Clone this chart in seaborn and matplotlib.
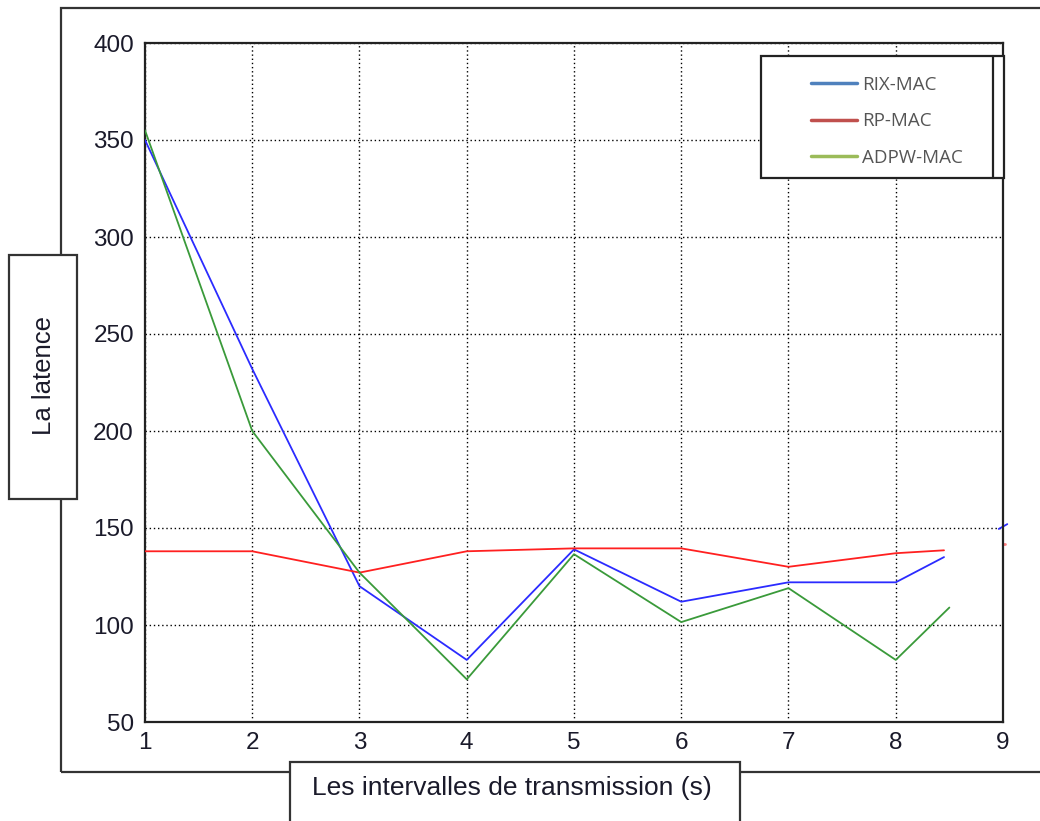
import matplotlib.pyplot as plt
import seaborn as sns
from matplotlib.lines import Line2D
from matplotlib.patches import Rectangle

# values
x_rix = [1, 2, 3, 4, 5, 6, 7, 8, 8.45]
rix_mac = [350, 232, 120, 82, 139, 112, 122, 122, 135]

x_rp = [1, 2, 3, 4, 5, 6, 7, 8, 8.45]
rp_mac = [138, 138, 127, 138, 139.5, 139.5, 130, 137, 138.5]

x_adpw = [1, 2, 3, 4, 5, 6, 7, 8, 8.5]
adpw_mac = [355, 200, 127, 72, 136.5, 101.5, 119, 82, 109]

# small leftover marks just past the right edge
x_rix_tail = [8.96, 9.04]
rix_tail = [149.5, 152]
x_rp_tail = [9.0, 9.015]
rp_tail = [141.5, 141.5]

x_ticks = [1, 2, 3, 4, 5, 6, 7, 8, 9]
y_ticks = [50, 100, 150, 200, 250, 300, 350, 400]
series_names = ['RIX-MAC', 'RP-MAC', 'ADPW-MAC']

sns.set_style('white')
plt.rcParams['font.family'] = ['Liberation Sans', 'DejaVu Sans']

W, H = 1040, 821
fig = plt.figure(figsize=(W / 100, H / 100), dpi=100)
ax = fig.add_axes([145 / W, 1 - 722 / H, (1003 - 145) / W, (722 - 43) / H])

# outer frame of the figure
fig.patches.append(Rectangle((61 / W, 1 - 772 / H), 1.0, (772 - 8) / H,
                             transform=fig.transFigure, fill=False,
                             edgecolor='#333333', linewidth=1.6, zorder=0))

sns.lineplot(x=x_rix, y=rix_mac, color='#2b2bff', linewidth=1.3, ax=ax, zorder=3)
sns.lineplot(x=x_rp, y=rp_mac, color='#ff2020', linewidth=1.3, ax=ax, zorder=3)
sns.lineplot(x=x_adpw, y=adpw_mac, color='#3a9a3a', linewidth=1.3, ax=ax, zorder=3)
sns.lineplot(x=x_rix_tail, y=rix_tail, color='#2b2bff', linewidth=1.3, ax=ax, clip_on=False)
sns.lineplot(x=x_rp_tail, y=rp_tail, color='#ff8080', linewidth=2.0, ax=ax, clip_on=False)

ax.set_xlim(1, 9)
ax.set_ylim(50, 400)
ax.set_xticks(x_ticks)
ax.set_yticks(y_ticks)
ax.grid(True, color='black', linestyle=(0, (1, 2)), linewidth=1.0)
ax.tick_params(axis='both', length=0, labelsize=17.5, labelcolor='#1a1a2a')
ax.tick_params(axis='x', pad=7)
ax.tick_params(axis='y', pad=8)
for s in ax.spines.values():
    s.set_color('#222222')
    s.set_linewidth(1.6)
ax.set_xlabel('')
ax.set_ylabel('')

# y label in its own box
fig.patches.append(Rectangle((9 / W, 1 - 499 / H), 68 / W, 244 / H,
                             transform=fig.transFigure, facecolor='white',
                             edgecolor='#333333', linewidth=1.6, zorder=2))
fig.text(44 / W, 1 - 375 / H, 'La latence', rotation=90, fontsize=18.5,
         ha='center', va='center', color='#1a1a2a', zorder=3)

# x label in its own box
fig.patches.append(Rectangle((290 / W, -0.05), 450 / W, 0.05 + 1 - 762 / H,
                             transform=fig.transFigure, facecolor='white',
                             edgecolor='#333333', linewidth=1.6, zorder=2))
fig.text(312 / W, 1 - 788 / H, 'Les intervalles de transmission (s)', fontsize=19,
         ha='left', va='center', color='#1a1a2a', zorder=3)

# legend box
ax.add_patch(Rectangle((761 / W, 1 - 178 / H), (1004 - 761) / W, 122 / H,
                       transform=fig.transFigure, facecolor='white',
                       edgecolor='#222222', linewidth=1.6, zorder=4, clip_on=False))
fig.lines.append(Line2D([993 / W, 993 / W], [1 - 178 / H, 1 - 56 / H],
                        transform=fig.transFigure, color='#222222', linewidth=1.6, zorder=5))
handles = [Line2D([], [], color=c, linewidth=2.5)
           for c in ['#4f81bd', '#c0504d', '#9bbb59']]
leg = ax.legend(handles, series_names, loc='upper left',
                bbox_to_anchor=(794 / W, 1 - 59 / H), bbox_transform=fig.transFigure,
                frameon=False, handlelength=2.45, handletextpad=0.3,
                labelspacing=0.99, prop={'family': 'Open Sans', 'size': 13.5})
for t in leg.get_texts():
    t.set_color('#555555')
leg.set_zorder(6)

plt.savefig('out.png', dpi=100)
